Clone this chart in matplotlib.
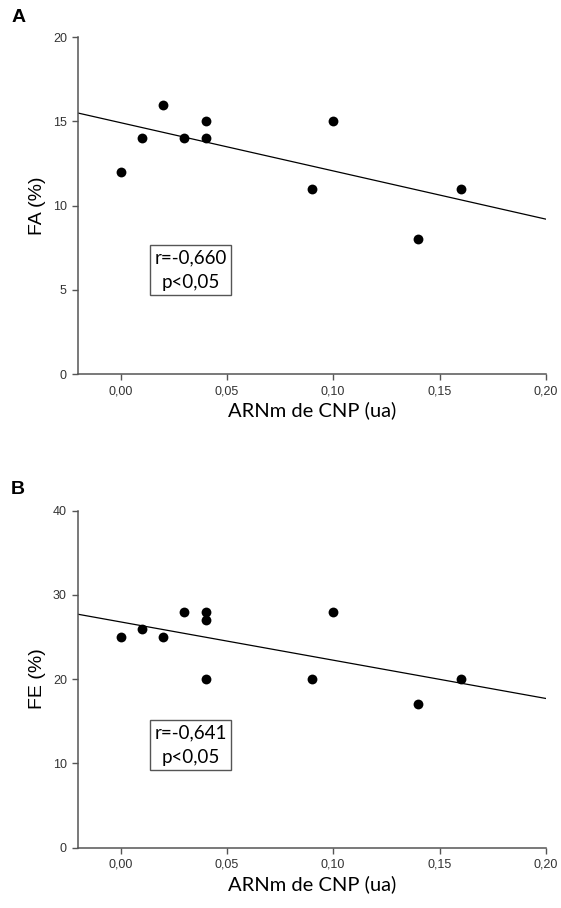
import numpy as np
import matplotlib
matplotlib.use("Agg")
import matplotlib.pyplot as plt

# ARNm de CNP (ua) vs fractional shortening / ejection fraction
x_a = [0.00, 0.01, 0.02, 0.03, 0.04, 0.04, 0.09, 0.10, 0.14, 0.16]
fa = [12, 14, 16, 14, 15, 14, 11, 15, 8, 11]

x_b = [0.00, 0.01, 0.02, 0.03, 0.04, 0.04, 0.04, 0.09, 0.10, 0.14, 0.16]
fe = [25, 26, 25, 28, 28, 27, 20, 20, 28, 17, 20]

# regression line values at the ends of the x range
line_x = [-0.02, 0.20]
line_a = [15.5, 9.2]
line_b = [27.7, 17.7]

stats_a = "r=-0,660\np<0,05"
stats_b = "r=-0,641\np<0,05"

x_ticks = [0.00, 0.05, 0.10, 0.15, 0.20]
x_ticklabels = ["0,00", "0,05", "0,10", "0,15", "0,20"]
y_ticks_a = [0, 5, 10, 15, 20]
y_ticks_b = [0, 10, 20, 30, 40]

TICK_FONT = "Liberation Sans"
LABEL_FONT = "Lato"
SPINE = "#555555"

fig = plt.figure(figsize=(5.61, 9.08), dpi=100)
ax_a = fig.add_axes([0.139, 0.588, 0.834, 0.371])
ax_b = fig.add_axes([0.139, 0.0666, 0.834, 0.371])


def style(ax, xs, ys, line_y, yticks, ylabel, stats, box_xy):
    ax.plot(line_x, line_y, color="black", lw=0.9, zorder=2)
    ax.scatter(xs, ys, s=50, color="black", zorder=3, linewidths=0)
    ax.set_xlim(-0.02, 0.20)
    ax.set_ylim(yticks[0], yticks[-1])
    ax.set_xticks(x_ticks)
    ax.set_xticklabels(x_ticklabels, fontfamily=TICK_FONT, fontsize=9, color="#333333")
    ax.set_yticks(yticks)
    ax.set_yticklabels([str(t) for t in yticks], fontfamily=TICK_FONT, fontsize=9, color="#333333")
    for side in ("top", "right"):
        ax.spines[side].set_visible(False)
    for side in ("left", "bottom"):
        ax.spines[side].set_color(SPINE)
        ax.spines[side].set_linewidth(1.1)
    ax.tick_params(direction="out", length=4, width=1.0, color=SPINE, pad=4)
    ax.set_xlabel("ARNm de CNP (ua)", fontfamily=LABEL_FONT, fontsize=14.5, labelpad=3)
    ax.set_ylabel(ylabel, fontfamily=TICK_FONT, fontsize=14, labelpad=5)
    ax.text(box_xy[0], box_xy[1], stats, transform=ax.transAxes, ha="center", va="center",
            fontfamily=LABEL_FONT, fontsize=13.5, linespacing=1.55,
            bbox=dict(boxstyle="square,pad=0.22", facecolor="white", edgecolor=SPINE, lw=1.0))


style(ax_a, x_a, fa, line_a, y_ticks_a, "FA (%)", stats_a, (0.241, 0.309))
style(ax_b, x_b, fe, line_b, y_ticks_b, "FE (%)", stats_b, (0.241, 0.303))

fig.text(0.020, 0.981, "A", fontfamily="Liberation Sans", fontweight="bold", fontsize=14, va="center")
fig.text(0.020, 0.4604, "B", fontfamily="Liberation Sans", fontweight="bold", fontsize=14, va="center")

fig.savefig("out.png", dpi=100)
